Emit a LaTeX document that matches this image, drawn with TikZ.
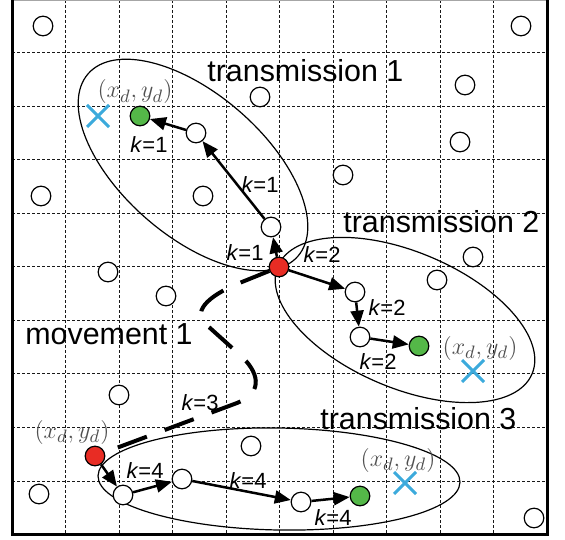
\documentclass[tikz,border=0pt]{standalone}
\usepackage[no-math]{fontspec}
\setmainfont{Liberation Sans}
\usetikzlibrary{arrows.meta}
\definecolor{nodered}{RGB}{232,44,36}
\definecolor{nodegreen}{RGB}{84,184,72}
\definecolor{crossblue}{RGB}{60,170,220}
\definecolor{labelgray}{RGB}{80,80,80}
\begin{document}
\begin{tikzpicture}[x=0.5pt,y=-0.5pt,
  gridline/.style={black!90, line width=0.45pt, dash pattern=on 1.5pt off 1pt},
  relay/.style={circle, draw=black, line width=0.6pt, fill=white, minimum size=9.8pt, inner sep=0pt},
  source/.style={relay, fill=nodered},
  dest/.style={relay, fill=nodegreen},
  hop/.style={-{Triangle[length=8pt,width=6.5pt]}, line width=1.25pt},
  klabel/.style={font=\fontsize{11}{11}\selectfont, inner sep=0pt},
  title/.style={font=\fontsize{15.2}{15}\selectfont, anchor=base west, inner sep=0pt},
  coordlabel/.style={text=labelgray, font=\fontsize{13}{13}\selectfont, inner sep=0pt},
  target/.style={crossblue, line width=1.5pt},
  zone/.style={line width=0.6pt},
  move/.style={line width=2pt, dash pattern=on 15.5pt off 9.5pt}
]
\useasboundingbox (0,0) rectangle (565,539);

% grid of cells
\foreach \i in {1,...,9} {
  \draw[gridline] ({12+53.5*\i},0) -- ({12+53.5*\i},534.5);
  \draw[gridline] (12,{-1+53.55*\i}) -- (547,{-1+53.55*\i});
}
% outer frame: heavy sides and bottom, light top edge
\draw[black!35, line width=0.6pt] (12,0.6) -- (547,0.6);
\draw[line width=1.5pt] (12,0) -- (12,534.5) -- (547,534.5) -- (547,0);

% transmission zones
\draw[zone] (193,165) circle [x radius=139, y radius=71, rotate=-41];
\draw[zone] (405,320) circle [x radius=138, y radius=68, rotate=-23];
\draw[zone] (279,479) circle [x radius=181, y radius=51, rotate=-1];

% target positions
\foreach \cx/\cy in {98/116, 473/371, 405/483}
  \draw[target] ({\cx-11},{\cy-11}) -- ({\cx+11},{\cy+11})
                ({\cx-11},{\cy+11}) -- ({\cx+11},{\cy-11});

% sources and destinations
\node[source] (r1) at (279,267) {};
\node[source] (r2) at (95,456) {};
\node[relay] (a1) at (271,227) {};
\node[relay] (a2) at (196,133) {};
\node[dest]  (d1) at (140,116) {};
\node[relay] (b1) at (355,292) {};
\node[relay] (b2) at (360,337) {};
\node[dest]  (d2) at (419,346) {};
\node[relay] (c1) at (123,495) {};
\node[relay] (c2) at (182,479) {};
\node[relay] (c3) at (301,502) {};
\node[dest]  (d3) at (360,496) {};

% idle nodes
\foreach \px/\py [count=\n] in {43/26, 521/26, 260/97, 465/85, 460/142, 343/175,
    41/196, 203/196, 108/272, 166/296, 437/280, 473/257, 119/395, 251/446,
    39/494, 534/518}
  \node[relay] (idle\n) at (\px,\py) {};

% movement of the source
\draw[move] (r1) -- (237,284) .. controls (200,300) and (192,316) .. (210,328)
  -- (240,355) .. controls (258,371) and (265,392) .. (237,403) -- (r2);

% hops
\draw[hop] (r1) -- (a1);
\draw[hop] (a1) -- (a2);
\draw[hop] (a2) -- (d1);
\draw[hop] (r1) -- (b1);
\draw[hop] (b1) -- (b2);
\draw[hop] (b2) -- (d2);
\draw[hop] (r2) -- (c1);
\draw[hop] (c1) -- (c2);
\draw[hop] (c2) -- (c3);
\draw[hop] (c3) -- (d3);

% hop labels
\node[klabel] (k11) at (149,145) {\textit{k}=1};
\node[klabel] (k12) at (260,185) {\textit{k}=1};
\node[klabel] (k13) at (245,253) {\textit{k}=1};
\node[klabel] (k21) at (322,255) {\textit{k}=2};
\node[klabel] (k22) at (387,308) {\textit{k}=2};
\node[klabel] (k23) at (378,362) {\textit{k}=2};
\node[klabel] (k3)  at (200,403) {\textit{k}=3};
\node[klabel] (k41) at (145,471) {\textit{k}=4};
\node[klabel] (k42) at (248,481) {\textit{k}=4};
\node[klabel] (k43) at (333,518) {\textit{k}=4};

% destination coordinates
\node[coordlabel] (p1) at (135,92)  {$(x_d,y_d)$};
\node[coordlabel] (p2) at (480,348) {$(x_d,y_d)$};
\node[coordlabel] (p3) at (398,460) {$(x_d,y_d)$};
\node[coordlabel] (p4) at (72,432)  {$(x_d,y_d)$};

% phase titles
\node[title] (t1) at (207,82)  {transmission 1};
\node[title] (t2) at (343,232) {transmission 2};
\node[title] (t3) at (320,429) {transmission 3};
\node[title] (m1) at (25,344)  {movement 1};
\end{tikzpicture}
\end{document}
